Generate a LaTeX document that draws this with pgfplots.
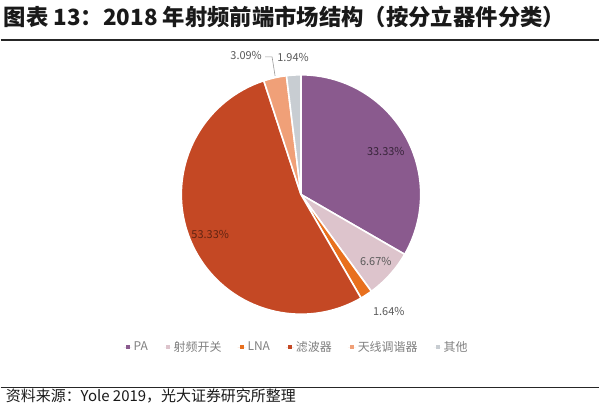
\documentclass[border=0pt]{standalone}
\usepackage{fontspec}
\setmainfont{Noto Sans CJK SC}
\usepackage{pgfplots}
\usepackage{pgfplotstable}
\pgfplotsset{compat=1.18}
\definecolor{cPA}{HTML}{8A5A8E}
\definecolor{cSW}{HTML}{DDC4CC}
\definecolor{cLNA}{HTML}{E8701E}
\definecolor{cFLT}{HTML}{C44824}
\definecolor{cANT}{HTML}{F0A078}
\definecolor{cOTH}{HTML}{C8CDD2}
\definecolor{txtgray}{HTML}{595959}
\definecolor{leggray}{HTML}{808080}
\pgfplotstableread{
name value col
PA 33.33 cPA
射频开关 6.67 cSW
LNA 1.64 cLNA
滤波器 53.33 cFLT
天线调谐器 3.09 cANT
其他 1.94 cOTH
}\piedata
\begin{document}
\begin{tikzpicture}
\begin{axis}[
  hide axis, x=1pt, y=1pt, xmin=0, xmax=600, ymin=0, ymax=407,
  clip=false,
  legend columns=6,
  legend style={at={(axis cs:120,59)}, anchor=west, draw=none, fill=none,
    font=\fontsize{12}{14}\selectfont\color{leggray},
    /tikz/every even column/.style={column sep=14pt}},
  legend cell align=left,
  legend image code/.code={\path (0pt,0pt) -- (8pt,0pt);\fill[#1, draw=none] (2.5pt,-2pt) rectangle (6.5pt,2pt);},
]
\path (axis cs:0,0) rectangle (axis cs:600,407);
\addlegendimage{fill=cPA, draw=none}\addlegendentry{PA}
\addlegendimage{fill=cSW, draw=none}\addlegendentry{射频开关}
\addlegendimage{fill=cLNA, draw=none}\addlegendentry{LNA}
\addlegendimage{fill=cFLT, draw=none}\addlegendentry{滤波器}
\addlegendimage{fill=cANT, draw=none}\addlegendentry{天线调谐器}
\addlegendimage{fill=cOTH, draw=none}\addlegendentry{其他}
\pgfplotsextra{
  \gdef\startang{90}
  \foreach \i in {0,...,5}{
    \pgfplotstablegetelem{\i}{value}\of{\piedata}\let\sval\pgfplotsretval
    \pgfplotstablegetelem{\i}{col}\of{\piedata}\let\scol\pgfplotsretval
    \pgfmathsetmacro\endang{\startang-3.6*\sval}
    \fill[fill=\scol, draw=white, line width=1.6pt, line join=round]
      (axis cs:301,212) -- ++(\startang:120pt)
      arc[start angle=\startang, end angle=\endang, radius=120pt] -- cycle;
    \xdef\startang{\endang}
  }
  % title and rules
  \node[anchor=base west, inner sep=0pt, text=black!90, font=\fontsize{22.4}{24}\selectfont\bfseries]
    at (axis cs:3,381) {图表 13：2018 年射频前端市场结构（按分立器件分类）};
  \draw[line width=1.5pt, black!85] (axis cs:0,367) -- (axis cs:600,367);
  \draw[line width=1pt, black!85] (axis cs:0,19) -- (axis cs:600,19);
  \node[anchor=base west, inner sep=0pt, text=black!90, font=\fontsize{15}{17}\selectfont]
    at (axis cs:5,4) {资料来源：Yole 2019，光大证券研究所整理};
  % data labels
  \begingroup
  \tikzset{every node/.style={font=\fontsize{11}{13}\selectfont, inner sep=0pt}}
  \node[text=black!60!cPA] at (axis cs:386,255) {33.33\%};
  \node[text=txtgray] at (axis cs:376,145) {6.67\%};
  \node[text=txtgray] at (axis cs:389,95) {1.64\%};
  \node[text=black!50!cFLT] at (axis cs:210,172) {53.33\%};
  \node[text=txtgray] at (axis cs:246,351) {3.09\%};
  \node[text=txtgray] at (axis cs:293,349) {1.94\%};
  \endgroup
  \draw[black!40, line width=0.6pt] (axis cs:265,350) -- (axis cs:272,350) -- (axis cs:275,331);
}
\end{axis}
\end{tikzpicture}
\end{document}
